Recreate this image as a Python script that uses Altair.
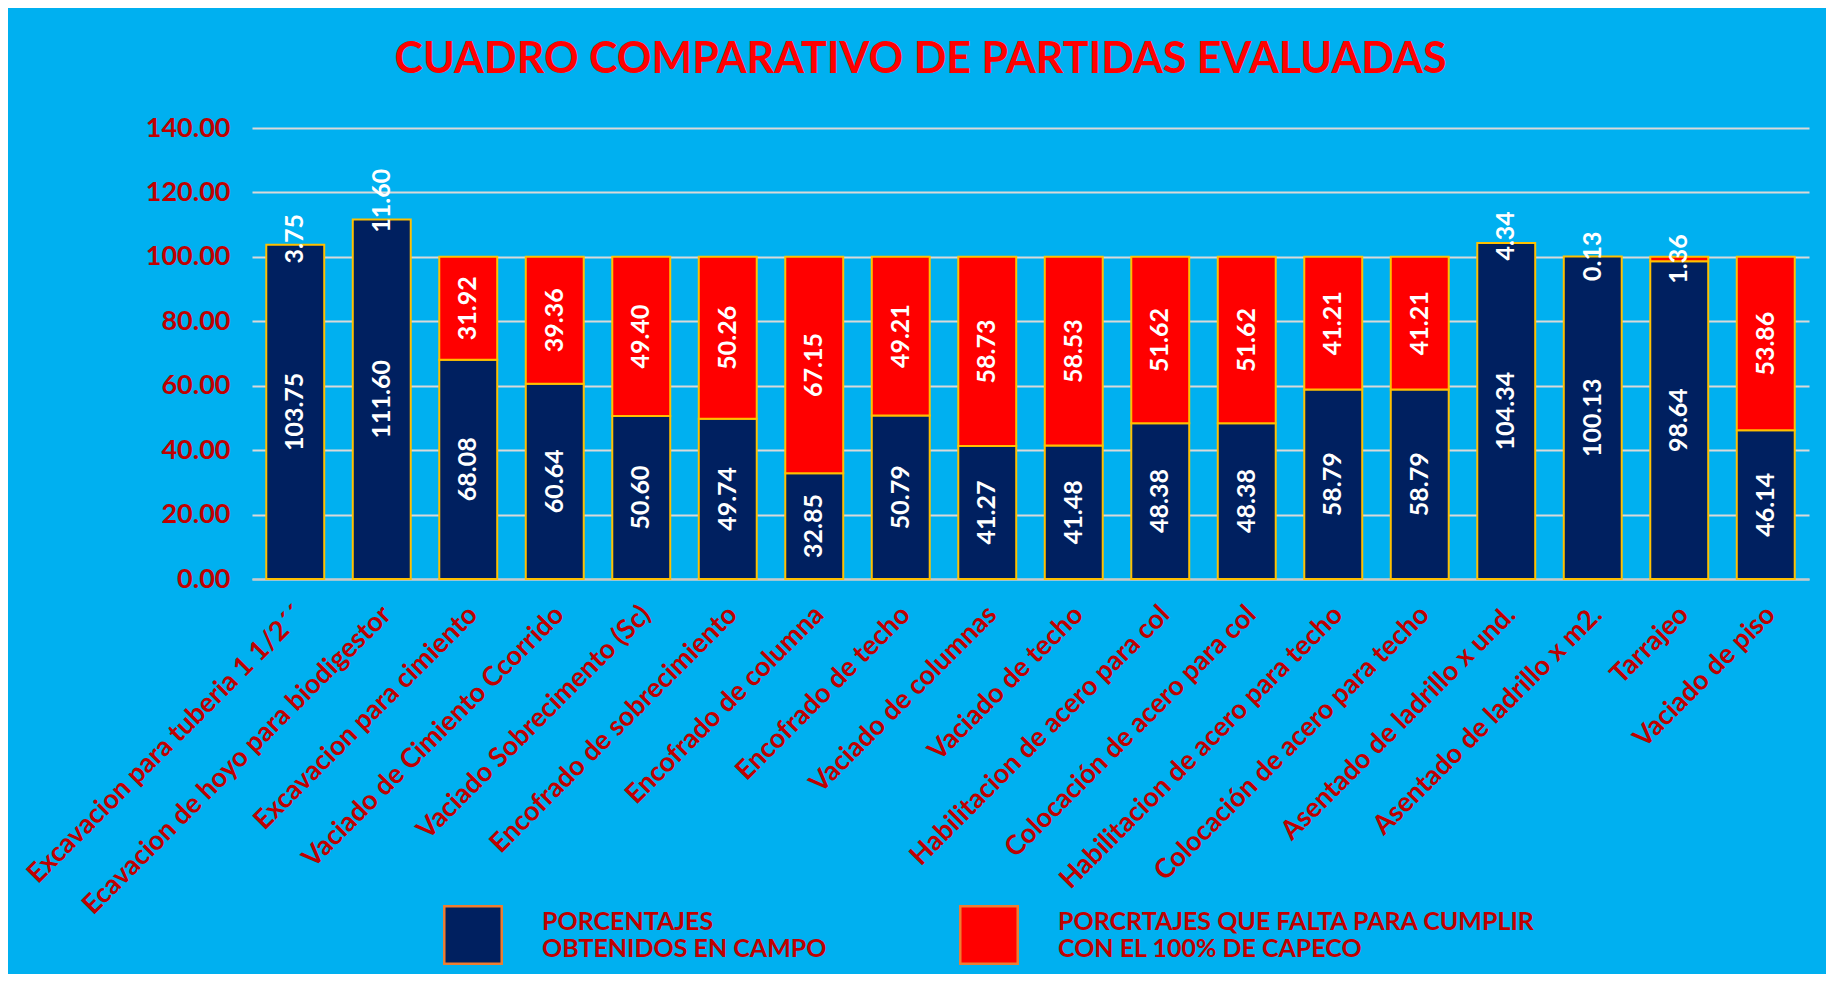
import altair as alt
import pandas as pd

categories = [
    "Excavacion para tuberia 1 1/2´´",
    "Ecavacion de hoyo para biodigestor",
    "Excavacion para cimiento",
    "Vaciado de Cimiento Ccorrido",
    "Vaciado Sobrecimento (Sc)",
    "Encofrado de sobrecimiento",
    "Encofrado de columna",
    "Encofrado de techo",
    "Vaciado de columnas",
    "Vaciado de techo",
    "Habilitacion de acero para col",
    "Colocación de acero para col",
    "Habilitacion de acero para techo",
    "Colocación de acero para techo",
    "Asentado de ladrillo x und.",
    "Asentado de ladrillo x m2.",
    "Tarrajeo",
    "Vaciado de piso",
]
# porcentajes obtenidos en campo
obtenidos = [103.75, 111.60, 68.08, 60.64, 50.60, 49.74, 32.85, 50.79, 41.27,
             41.48, 48.38, 48.38, 58.79, 58.79, 104.34, 100.13, 98.64, 46.14]
# porcentajes que faltan (negative = exceso sobre 100%, not drawn as a bar)
faltantes = [-3.75, -11.60, 31.92, 39.36, 49.40, 50.26, 67.15, 49.21, 58.73,
             58.53, 51.62, 51.62, 41.21, 41.21, -4.34, -0.13, 1.36, 53.86]

S1 = "PORCENTAJES|OBTENIDOS EN CAMPO"
S2 = "PORCRTAJES QUE FALTA PARA CUMPLIR|CON EL 100% DE CAPECO"
y_ticks = [0, 20, 40, 60, 80, 100, 120, 140]

bar_rows, label_rows = [], []
for c, o, f in zip(categories, obtenidos, faltantes):
    bar_rows.append({"cat": c, "serie": S1, "y0": 0.0, "y1": o})
    label_rows.append({"cat": c, "ypos": o / 2, "val": o})
    if f > 0:
        bar_rows.append({"cat": c, "serie": S2, "y0": o, "y1": o + f})
    label_rows.append({"cat": c, "ypos": o + abs(f) / 2, "val": abs(f)})

bars_df = pd.DataFrame(bar_rows)
labels_df = pd.DataFrame(label_rows)

FONT = "Lato"
DARKRED = "#C00000"

x_enc = alt.X(
    "cat:N",
    sort=categories,
    title=None,
    scale=alt.Scale(paddingInner=0.33, paddingOuter=0.165),
    axis=alt.Axis(
        labelAngle=-45, labelAlign="right", labelBaseline="top",
        labelPadding=22, labelOffset=-4, labelLimit=1000, labelOverlap=False,
        labelFont=FONT, labelFontSize=27, labelFontWeight="bold",
        labelColor=DARKRED, ticks=False, domain=True,
        domainColor="#C8C8C8", domainWidth=2, grid=False,
    ),
)

y_scale = alt.Scale(domain=[0, 140], nice=False)

bars = alt.Chart(bars_df).mark_bar(stroke="#FFC000", strokeWidth=2).encode(
    x=x_enc,
    y=alt.Y(
        "y0:Q", scale=y_scale, title=None,
        axis=alt.Axis(
            values=y_ticks, format=".2f", labelFont=FONT, labelFontSize=27,
            labelFontWeight="bold", labelColor=DARKRED, labelPadding=22,
            ticks=False, domain=False, grid=True, gridColor="#D9D9D9",
            gridWidth=2,
        ),
    ),
    y2="y1:Q",
    color=alt.Color(
        "serie:N",
        scale=alt.Scale(domain=[S1, S2], range=["#002060", "#FF0000"]),
        legend=alt.Legend(
            title=None, orient="none", legendX=191, legendY=777,
            direction="horizontal", gridAlign="none", columnPadding=128,
            symbolType="square", symbolSize=3300, symbolStrokeColor="#ED7D31",
            symbolStrokeWidth=2.5, symbolOpacity=1, labelOffset=39,
            labelFont=FONT, labelFontSize=25, labelFontWeight="bold",
            labelColor=DARKRED, labelLimit=1000, labelBaseline="bottom",
            labelExpr="split(datum.label, '|')", padding=0,
        ),
    ),
)

labels = alt.Chart(labels_df).mark_text(
    angle=270, align="center", baseline="middle", color="white",
    font=FONT, fontSize=25, fontWeight="bold",
).encode(
    x=alt.X("cat:N", sort=categories),
    y=alt.Y("ypos:Q", scale=y_scale),
    text=alt.Text("val:Q", format=".2f"),
)

chart = alt.layer(bars, labels).properties(
    width=1557,
    height=451,
    background="#00B0F0",
    autosize=alt.AutoSizeParams(type="none"),
    padding={"left": 244, "top": 120, "right": 17, "bottom": 395},
    title=alt.TitleParams(
        text="CUADRO COMPARATIVO DE PARTIDAS EVALUADAS",
        font=FONT, fontSize=43, fontWeight="bold", color="#FF0000",
        anchor="middle", dx=-110, dy=46, offset=44, baseline="alphabetic",
    ),
).configure_view(stroke=None)

chart.save("out.html", embed_options={"renderer": "svg", "actions": False})
